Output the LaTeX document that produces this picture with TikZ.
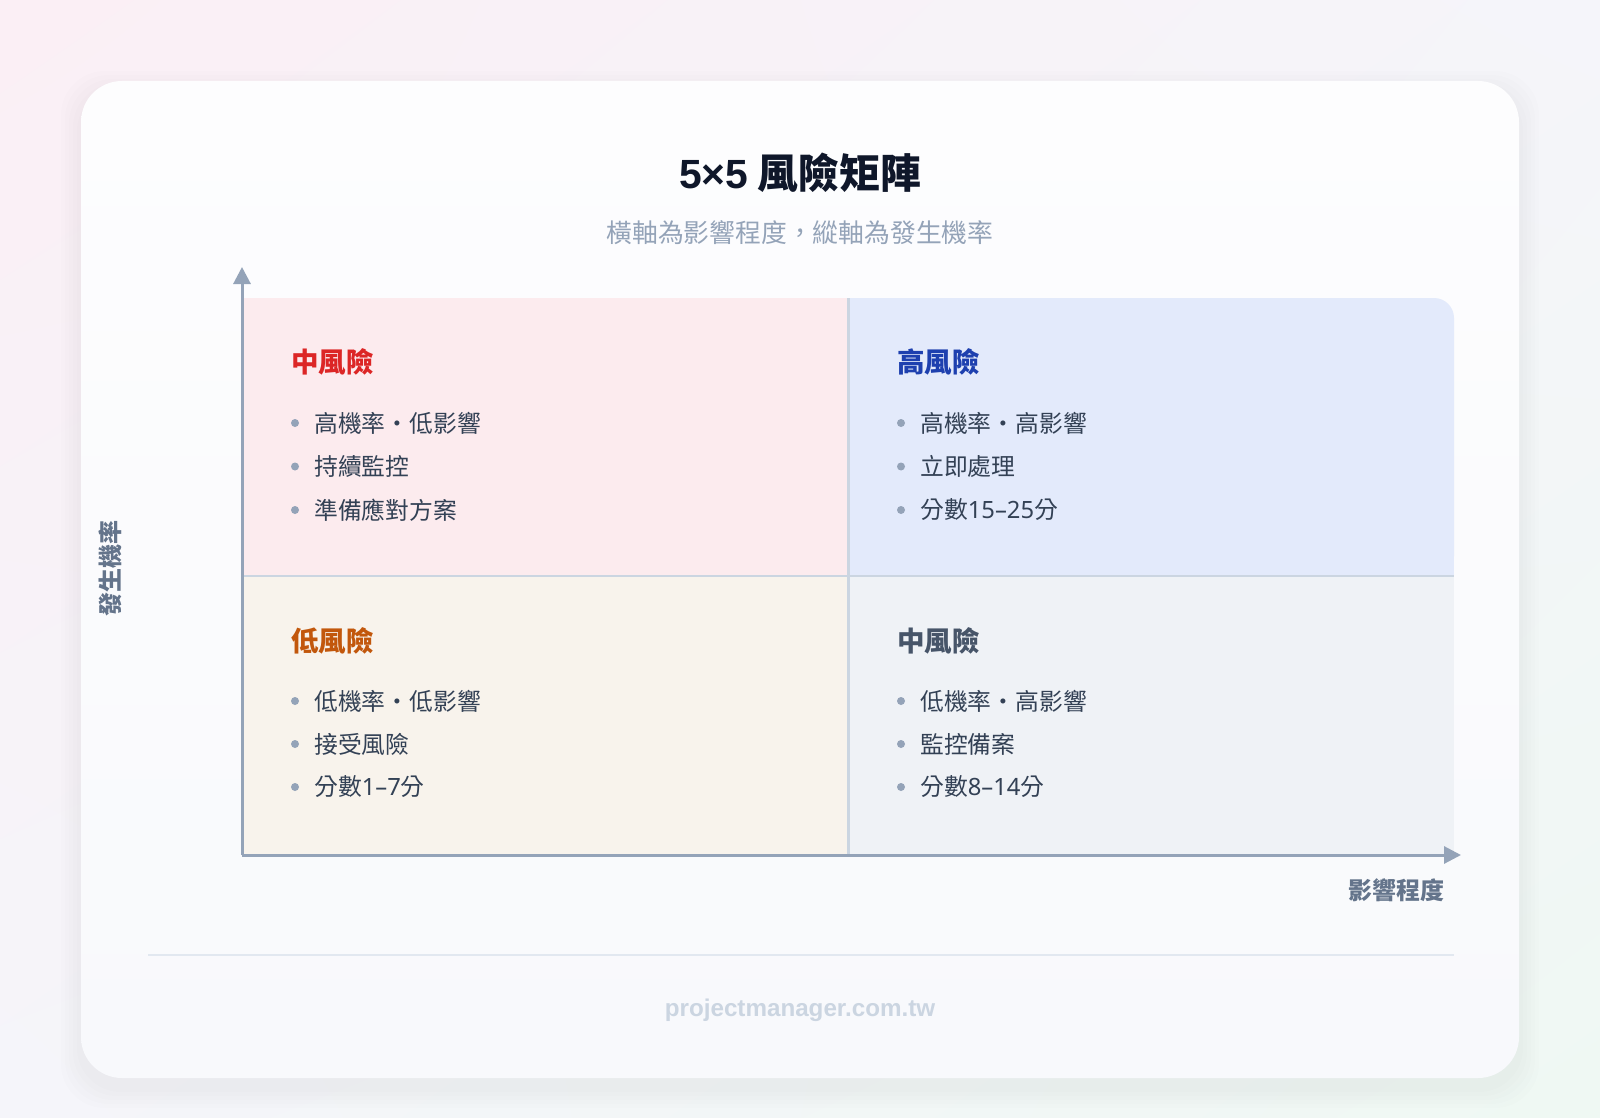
\documentclass[tikz,border=0pt]{standalone}
\usepackage{fontspec}
\setmainfont{Noto Sans CJK TC}
\newfontfamily\latinsans{Noto Sans}
\newfontfamily\latinbold{Liberation Sans}
\usetikzlibrary{arrows.meta,shadings}
\definecolor{bgpink}{HTML}{FBEFF5}
\definecolor{bgmid}{HTML}{F5F5FA}
\definecolor{bggreen}{HTML}{EFF8F3}
\definecolor{cardtop}{HTML}{FDFDFE}
\definecolor{cardbot}{HTML}{F8F9FC}
\definecolor{titleink}{HTML}{0F172A}
\definecolor{subink}{HTML}{94A3B8}
\definecolor{itemink}{HTML}{334155}
\definecolor{axisgray}{HTML}{94A3B8}
\definecolor{labelink}{HTML}{64748B}
\definecolor{gridline}{HTML}{CBD5E1}
\definecolor{footline}{HTML}{E2E8F0}
\definecolor{footink}{HTML}{CBD5E1}
\definecolor{quadpink}{HTML}{FCEBEE}
\definecolor{quadblue}{HTML}{E3EAFB}
\definecolor{quadcream}{HTML}{F8F3EC}
\definecolor{quadgray}{HTML}{EFF2F6}
\definecolor{riskred}{HTML}{DC2626}
\definecolor{riskblue}{HTML}{1E40AF}
\definecolor{riskorange}{HTML}{C2570C}
\definecolor{riskslate}{HTML}{475569}
\begin{document}
\begin{tikzpicture}[
    x=1pt, y=-1pt,
    quadtitle/.style={anchor=west, inner sep=0pt, font=\fontsize{27.5}{32}\selectfont\bfseries},
    item/.style={anchor=west, inner sep=0pt, text=itemink, font=\fontsize{23.8}{28}\selectfont},
    bulletdot/.style={fill=axisgray},
    axisline/.style={draw=axisgray, line width=3pt, -{Triangle[length=17pt,width=17pt]}},
    axislabel/.style={text=labelink, font=\fontsize{24}{28}\selectfont\bfseries}
  ]
  \useasboundingbox (0,0) rectangle (1600,1118);
  \shade[upper left=bgpink, upper right=bgmid, lower left=bgmid, lower right=bggreen]
    (0,0) rectangle (1600,1118);
  % card
  \foreach \s in {20,16,12,8,4}
    \fill[black, opacity=0.006, rounded corners=44pt] (81-\s,81-\s+10) rectangle (1519+\s,1078+\s+10);
  \shade[top color=cardtop, bottom color=cardbot, rounded corners=41pt] (81,81) rectangle (1519,1078);

  \node (title) at (800,173) [text=titleink, font=\fontsize{40.8}{48}\selectfont\bfseries] {{\latinbold 5×5} 風險矩陣};
  \node (subtitle) at (800,233) [text=subink, font=\fontsize{25.8}{30}\selectfont] {橫軸為影響程度，縱軸為發生機率};

  % quadrants
  \fill[quadpink] (242,298) rectangle (848,576);
  \fill[quadblue, rounded corners=20pt] (848,298) rectangle (1454,576);
  \fill[quadblue] (848,298) rectangle (1420,576);
  \fill[quadblue] (848,330) rectangle (1454,576);
  \fill[quadcream] (242,576) rectangle (848,855);
  \fill[quadgray] (848,576) rectangle (1454,855);
  \draw[gridline, line width=2pt] (242,576) -- (1454,576);
  \draw[gridline, line width=3pt] (848,298) -- (848,855);

  \coordinate (origin) at (242,855);
  \coordinate (ytip) at (242,267);
  \coordinate (xtip) at (1461,855);
  \draw[axisline] (origin) -- (ytip);
  \draw[axisline] (origin) -- (xtip);
  \node (xlabel) at (1448,890) [axislabel, anchor=east] {影響程度};
  \node (ylabel) at (110,568) [axislabel, rotate=90] {發生機率};

  \node (tltitle) at (291,362) [quadtitle, text=riskred] {中風險};
  \foreach \txt [count=\i] in {高機率・低影響, 持續監控, 準備應對方案} {
    \node (tl\i) at (314,423+43.5*\i-43.5) [item] {\txt};
    \fill[bulletdot] ([xshift=-19pt]tl\i.west) circle (4pt);
  }
  \node (trtitle) at (897,362) [quadtitle, text=riskblue] {高風險};
  \foreach \txt [count=\i] in {高機率・高影響, 立即處理, 分數{\latinsans 15–25}分} {
    \node (tr\i) at (920,423+43.5*\i-43.5) [item] {\txt};
    \fill[bulletdot] ([xshift=-19pt]tr\i.west) circle (4pt);
  }
  \node (bltitle) at (291,641) [quadtitle, text=riskorange] {低風險};
  \foreach \txt [count=\i] in {低機率・低影響, 接受風險, 分數{\latinsans 1–7}分} {
    \node (bl\i) at (314,701+43*\i-43) [item] {\txt};
    \fill[bulletdot] ([xshift=-19pt]bl\i.west) circle (4pt);
  }
  \node (brtitle) at (897,641) [quadtitle, text=riskslate] {中風險};
  \foreach \txt [count=\i] in {低機率・高影響, 監控備案, 分數{\latinsans 8–14}分} {
    \node (br\i) at (920,701+43*\i-43) [item] {\txt};
    \fill[bulletdot] ([xshift=-19pt]br\i.west) circle (4pt);
  }

  \draw[footline, line width=1.5pt] (148,955) -- (1454,955);
  \node (footer) at (800,1010) [text=footink, font=\latinbold\fontsize{24.2}{28}\selectfont\bfseries] {projectmanager.com.tw};
\end{tikzpicture}
\end{document}
